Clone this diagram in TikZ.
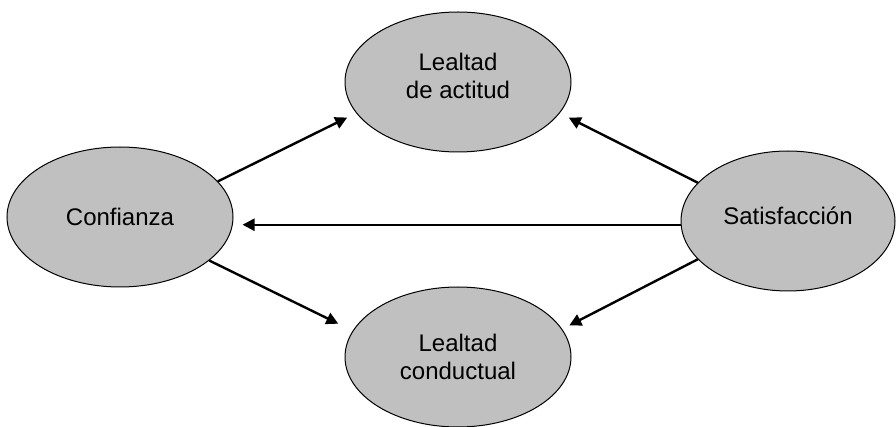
\documentclass[tikz,border=0pt]{standalone}
\usepackage{fontspec}
\setmainfont{Liberation Sans}
\usetikzlibrary{arrows.meta,shapes.geometric}
\definecolor{bubblegray}{RGB}{192,192,192}

\begin{document}
\begin{tikzpicture}[x=0.5pt,y=-0.5pt,
  bubble/.style={ellipse,draw=black,line width=0.5pt,fill=bubblegray,inner sep=0pt,
    minimum width=113pt,minimum height=70pt,align=center,font=\fontsize{12}{14}\selectfont},
  arr/.style={line width=1.2pt,-{Triangle[length=6pt,width=6pt]},shorten >=5pt}]
\useasboundingbox (0,0) rectangle (896,427);

\node[bubble] (conf) at (120,217) {Confianza};
\node[bubble,minimum width=107pt,text depth=5pt] (sat) at (788,221) {Satisfacción};
\node[bubble,text depth=6pt] (lact) at (458,82) {Lealtad\\de actitud};
\node[bubble] (lcond) at (458,357) {Lealtad\\conductual};

% arrows into the two loyalty nodes
\draw[arr] (conf.20) -- (lact.197);
\draw[arr,shorten >=8pt] (conf.-26) -- (lcond.166);
\draw[arr] (sat.157) -- (lact.-17);
\draw[arr,shorten >=4pt] (sat.203) -- (lcond.15);

\draw[arr,shorten >=4.5pt] (sat.182) -- (sat.182 -| conf.east);

\end{tikzpicture}
\end{document}
